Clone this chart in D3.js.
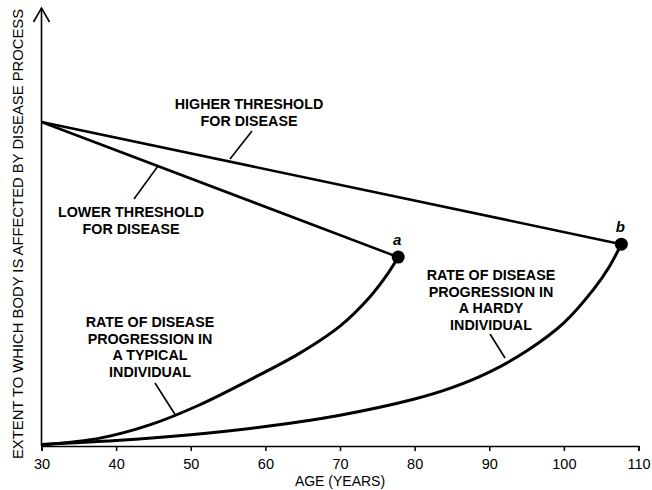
<!DOCTYPE html>
<html>
<head>
<meta charset="utf-8">
<script src="https://cdn.jsdelivr.net/npm/d3@7"></script>
<style>
  body { margin: 0; background: #fff; }
  svg { display: block; }
</style>
</head>
<body>
<div id="showBox"></div>
<script>
// ticks on the age axis
const ageTicks = [30, 40, 50, 60, 70, 80, 90, 100, 110];

// disease progression curves (age, extent)
const typicalAge = [30, 38, 44.5, 51, 58, 64.5, 70, 74, 76.5, 77.8];
const typicalExtent = [0.3, 2.5, 6.5, 12.5, 20.5, 28.5, 37, 46, 53.5, 58.3];

const hardyAge = [30, 40, 50, 60, 70, 80, 85, 90, 95, 100, 104, 106, 107.7];
const hardyExtent = [0.5, 1.7, 3.5, 6, 9.5, 14.5, 18, 22.8, 29.3, 38, 48.4, 55, 62.3];

// threshold lines: start point, then end at a (lower) and b (higher)
const thresholdStart = [30, 100];
const lowerEnd = [77.8, 58.3];
const higherEnd = [107.7, 62.3];
const pointNames = ["a", "b"];

const yTitle = "EXTENT TO WHICH BODY IS AFFECTED BY DISEASE PROCESS";
const xTitle = "AGE (YEARS)";
const higherLabel = ["HIGHER THRESHOLD", "FOR DISEASE"];
const lowerLabel = ["LOWER THRESHOLD", "FOR DISEASE"];
const typicalLabel = ["RATE OF DISEASE", "PROGRESSION IN", "A TYPICAL", "INDIVIDUAL"];
const hardyLabel = ["RATE OF DISEASE", "PROGRESSION IN", "A HARDY", "INDIVIDUAL"];

const width = 652, height = 490;
const font = "'Liberation Sans', Arial, Helvetica, sans-serif";

const x = d3.scaleLinear().domain([30, 110]).range([41.5, 638.5]);
const y = d3.scaleLinear().domain([0, 100]).range([446, 122]);

const svg = d3.select("#showBox").append("svg")
    .attr("width", width)
    .attr("height", height)
    .attr("font-family", font);

// x axis
const xAxis = svg.append("g")
    .attr("transform", `translate(0,${y(0)})`)
    .call(d3.axisBottom(x).tickValues(ageTicks).tickSize(5).tickPadding(8).tickFormat(d3.format("d")));
xAxis.select(".domain").attr("stroke", "#000").attr("stroke-width", 1.6);
xAxis.selectAll(".tick line").attr("stroke", "#000").attr("stroke-width", 1.5);
xAxis.selectAll(".tick text")
    .attr("font-size", 14.5)
    .attr("font-family", font)
    .attr("fill", "#000");

svg.append("text")
    .attr("x", 340)
    .attr("y", 486)
    .attr("text-anchor", "middle")
    .attr("font-size", 14)
    .text(xTitle);

// y axis with open arrow
svg.append("line")
    .attr("x1", x(30)).attr("x2", x(30))
    .attr("y1", y(0)).attr("y2", 8)
    .attr("stroke", "#000").attr("stroke-width", 1.6);
svg.append("path")
    .attr("d", `M${x(30) - 8},22 L${x(30)},8 L${x(30) + 8},22`)
    .attr("fill", "none").attr("stroke", "#000").attr("stroke-width", 1.6);

svg.append("text")
    .attr("transform", `translate(23,${234}) rotate(-90)`)
    .attr("text-anchor", "middle")
    .attr("font-size", 14.8)
    .text(yTitle);

// threshold lines
svg.append("g")
    .attr("stroke", "#000")
    .attr("stroke-width", 2.6)
    .selectAll("line")
    .data([lowerEnd, higherEnd])
    .join("line")
    .attr("x1", x(thresholdStart[0])).attr("y1", y(thresholdStart[1]))
    .attr("x2", d => x(d[0])).attr("y2", d => y(d[1]));

// progression curves
const line = d3.line()
    .x(d => x(d[0]))
    .y(d => y(d[1]))
    .curve(d3.curveCatmullRom.alpha(0.5));

const typical = typicalAge.map((a, i) => [a, typicalExtent[i]]);
const hardy = hardyAge.map((a, i) => [a, hardyExtent[i]]);

svg.append("g")
    .attr("fill", "none")
    .attr("stroke", "#000")
    .attr("stroke-width", 3)
    .selectAll("path")
    .data([typical, hardy])
    .join("path")
    .attr("d", line);

// end points a and b
const ends = [lowerEnd, higherEnd];
svg.append("g")
    .selectAll("circle")
    .data(ends)
    .join("circle")
    .attr("cx", d => x(d[0]))
    .attr("cy", d => y(d[1]))
    .attr("r", 6.5)
    .attr("fill", "#000");

svg.append("g")
    .selectAll("text")
    .data(ends)
    .join("text")
    .attr("x", d => x(d[0]) - 1)
    .attr("y", d => y(d[1]) - 12)
    .attr("text-anchor", "middle")
    .attr("font-size", 15)
    .attr("font-weight", "bold")
    .attr("font-style", "italic")
    .text((d, i) => pointNames[i]);

// annotations with leader lines
function note(lines, cx, top, leader) {
    const t = svg.append("text")
        .attr("text-anchor", "middle")
        .attr("font-size", 14.3)
        .attr("font-weight", "bold");
    lines.forEach((s, i) => {
        t.append("tspan").attr("x", cx).attr("y", top + i * 16.5).text(s);
    });
    svg.append("line")
        .attr("x1", leader[0]).attr("y1", leader[1])
        .attr("x2", leader[2]).attr("y2", leader[3])
        .attr("stroke", "#000").attr("stroke-width", 1.6);
}

note(higherLabel, 249, 109, [252, 131, 230, 159]);
note(lowerLabel, 131, 217, [134, 199, 158, 166]);
note(typicalLabel, 150, 327, [155, 383, 176, 416]);
note(hardyLabel, 491, 280, [490, 334, 505, 358]);
</script>
</body>
</html>
